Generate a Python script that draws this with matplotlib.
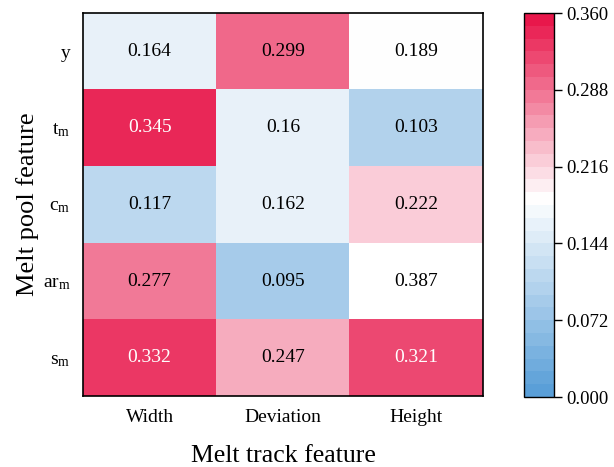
import matplotlib
matplotlib.use('Agg')
import matplotlib.pyplot as plt
import numpy as np
from matplotlib.colors import LinearSegmentedColormap, ListedColormap, BoundaryNorm

plt.rcParams['font.family'] = 'Liberation Serif'
plt.rcParams['mathtext.fontset'] = 'custom'
plt.rcParams['mathtext.rm'] = 'Liberation Serif'
plt.rcParams['mathtext.it'] = 'Liberation Serif'

pool_features = ['y', r'$\mathrm{t_m}$', r'$\mathrm{c_m}$', r'$\mathrm{ar_m}$', r'$\mathrm{s_m}$']
track_features = ['Width', 'Deviation', 'Height']
y_row = [0.164, 0.299, 0.189]
tm_row = [0.345, 0.16, 0.103]
cm_row = [0.117, 0.162, 0.222]
arm_row = [0.277, 0.095, 0.387]
sm_row = [0.332, 0.247, 0.321]
cbar_ticks = [0.000, 0.072, 0.144, 0.216, 0.288, 0.360]

vals = np.array([y_row, tm_row, cm_row, arm_row, sm_row])

# 30 discrete levels, blue -> white -> red, level 15 is pure white
base = LinearSegmentedColormap.from_list('bwr_', ['#5a9fd8', '#ffffff', '#e8174b'])
nlev = 30
idx = np.arange(nlev)
pos = np.where(idx <= 15, idx / 15 * 0.5, 0.5 + (idx - 15) / 14 * 0.5)
cmap = ListedColormap(base(pos))
cmap.set_over('white')
bounds = np.linspace(0, 0.36, nlev + 1)
norm = BoundaryNorm(bounds, cmap.N)

fig = plt.figure(figsize=(6.14, 4.67), dpi=100)
ax = fig.add_axes([83/614, 1 - 396/467, 400/614, 383/467])
cax = fig.add_axes([524/614, 1 - 397/467, 30/614, 384/467])

im = ax.imshow(vals, cmap=cmap, norm=norm, aspect='auto')

for i in range(vals.shape[0]):
    for j in range(vals.shape[1]):
        v = vals[i, j]
        col = 'white' if 0.31 < v <= 0.36 else 'black'
        ax.text(j, i, f'{v:g}', ha='center', va='center', fontsize=14, color=col)

ax.set_xticks(range(len(track_features)))
ax.set_xticklabels(track_features, fontsize=14)
ax.set_yticks(range(len(pool_features)))
ax.set_yticklabels(pool_features, fontsize=14)
ax.tick_params(length=0, pad=9)
ax.set_xlabel('Melt track feature', fontsize=18.5, labelpad=14)
ax.set_ylabel('Melt pool feature', fontsize=19, labelpad=3)
for s in ax.spines.values():
    s.set_linewidth(1.2)

cb = fig.colorbar(im, cax=cax, ticks=cbar_ticks)
cb.minorticks_off()
cb.ax.set_yticklabels([f'{t:.3f}' for t in cbar_ticks], fontsize=13.5)
cb.ax.tick_params(length=6, width=1, pad=3)
cb.outline.set_linewidth(1)

plt.savefig('out.png', dpi=100)
